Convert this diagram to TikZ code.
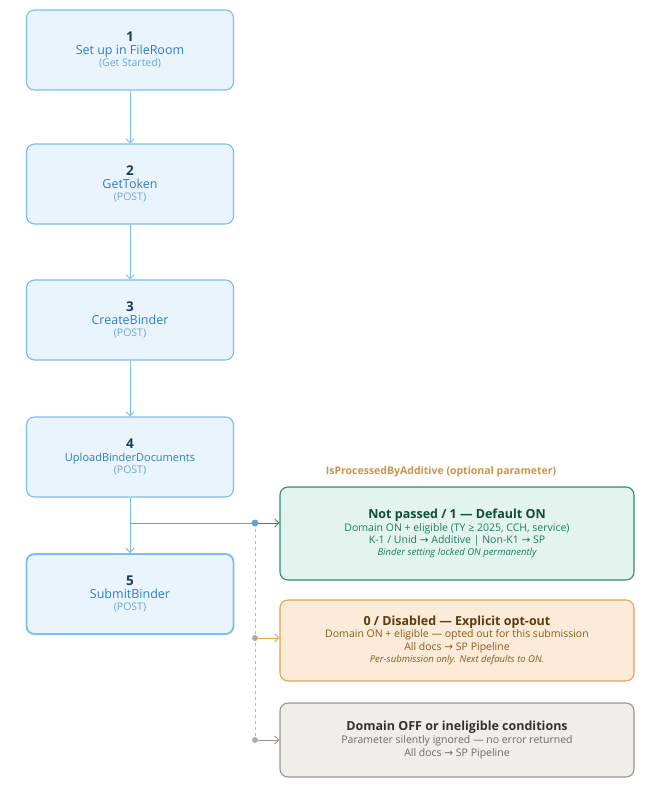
\documentclass[tikz,border=0pt]{standalone}
\usepackage{fontspec}
\setmainfont{Open Sans}
\newfontfamily\arrowfont{DejaVu Sans}
\newcommand\ra{{\arrowfont\char"2192}}
\usetikzlibrary{arrows.meta}
\definecolor{bB}{HTML}{7DBDEB}\definecolor{bF}{HTML}{EAF4FD}\definecolor{bT}{HTML}{2E7EBF}\definecolor{bN}{HTML}{1F3B57}
\definecolor{gB}{HTML}{2E8B6E}\definecolor{gF}{HTML}{E3F4EE}\definecolor{gT}{HTML}{1E7A5E}\definecolor{gN}{HTML}{0E4D3A}
\definecolor{oB}{HTML}{E3A44E}\definecolor{oF}{HTML}{FBEBD8}\definecolor{oT}{HTML}{8A5A1E}\definecolor{oN}{HTML}{5A3A12}
\definecolor{yB}{HTML}{9A9690}\definecolor{yF}{HTML}{F0EEEA}\definecolor{yT}{HTML}{6A6A6A}\definecolor{yN}{HTML}{333333}
\definecolor{dotB}{HTML}{5AA6E0}
\begin{document}
\begin{tikzpicture}[x=1pt,y=-1pt,
 stepbox/.style={draw=bB,fill=bF,rounded corners=8pt,line width=1.1pt,minimum width=207pt,minimum height=80pt,align=center,text=bT,inner sep=0pt},
 opt/.style={rounded corners=8pt,line width=1.1pt,minimum width=354pt,align=center,inner sep=0pt},
 arr/.style={draw=bB,line width=1pt,-{Straight Barb[length=4pt,width=8pt]}}]
\useasboundingbox (0,0) rectangle (645,796);
\newcommand\stp[3]{{\fontsize{13.5}{18}\selectfont\bfseries\color{bN}#1}\\[1pt]{\fontsize{12.5}{17}\selectfont #2}\\{\fontsize{10.5}{15}\selectfont\color{bT!70} #3}}
\node[stepbox] (s1) at (130,50) {\stp{1}{Set up in FileRoom}{(Get Started)}};
\node[stepbox] (s2) at (130,184) {\stp{2}{GetToken}{(POST)}};
\node[stepbox] (s3) at (130,320) {\stp{3}{CreateBinder}{(POST)}};
\node[stepbox] (s4) at (130,457) {\stp{4}{{\fontsize{11}{16}\selectfont UploadBinderDocuments}}{(POST)}};
\node[stepbox,line width=1.8pt] (s5) at (130,594) {\stp{5}{SubmitBinder}{(POST)}};
\draw[arr] (s1) -- (s2); \draw[arr] (s2) -- (s3); \draw[arr] (s3) -- (s4); \draw[arr] (s4) -- (s5);
\node[opt,draw=gB,fill=gF,text=gT,minimum height=93pt] (g) at (457,533.5) {{\fontsize{12.5}{17}\selectfont\bfseries\color{gN}Not passed / 1 — Default ON}\\[1pt]{\fontsize{10.5}{16}\selectfont Domain ON + eligible (TY ≥ 2025, CCH, service)}\\{\fontsize{10.5}{16}\selectfont K-1 / Unid \ra{} Additive | Non-K1 \ra{} SP}\\{\fontsize{9.5}{13}\selectfont\itshape Binder setting locked ON permanently}};
\node[opt,draw=oB,fill=oF,text=oT,minimum height=81pt] (o) at (457,640.5) {{\fontsize{12.5}{17}\selectfont\bfseries\color{oN}0 / Disabled — Explicit opt-out}\\{\fontsize{10.5}{15}\selectfont Domain ON + eligible — opted out for this submission}\\[1pt]{\fontsize{10.5}{14}\selectfont All docs \ra{} SP Pipeline}\\{\fontsize{9.5}{12}\selectfont\itshape Per-submission only. Next defaults to ON.}};
\node[opt,draw=yB,fill=yF,text=yT,minimum height=74pt] (y) at (457,740) {{\fontsize{12.5}{17}\selectfont\bfseries\color{yN}Domain OFF or ineligible conditions}\\[1pt]{\fontsize{10.5}{16}\selectfont Parameter silently ignored — no error returned}\\[1pt]{\fontsize{10.5}{16}\selectfont All docs \ra{} SP Pipeline}};
\node[text=oB!90!black,font=\fontsize{10.5}{13}\selectfont\bfseries] (t) at (441,472) {IsProcessedByAdditive (optional parameter)};
\coordinate (br) at (130,523);
\coordinate (d1) at (255,523); \coordinate (d2) at (255,638); \coordinate (d3) at (255,740);
\draw[draw=yB!70,line width=1pt,dashed] (d1) -- (d3);
\draw[draw=dotB,line width=1pt] (br) -- (d1);
\draw[draw=gB,line width=1pt,-{Straight Barb[length=4pt,width=8pt]}] (d1) -- (g.west|-d1);
\draw[draw=oB,line width=1pt,-{Straight Barb[length=4pt,width=8pt]}] (d2) -- (o.west|-d2);
\draw[draw=yB,line width=1pt,-{Straight Barb[length=4pt,width=8pt]}] (d3) -- (y.west|-d3);
\fill[dotB] (d1) circle (3.5pt);
\fill[yB!80] (d2) circle (3pt); \fill[yB!80] (d3) circle (3pt);
\end{tikzpicture}
\end{document}
